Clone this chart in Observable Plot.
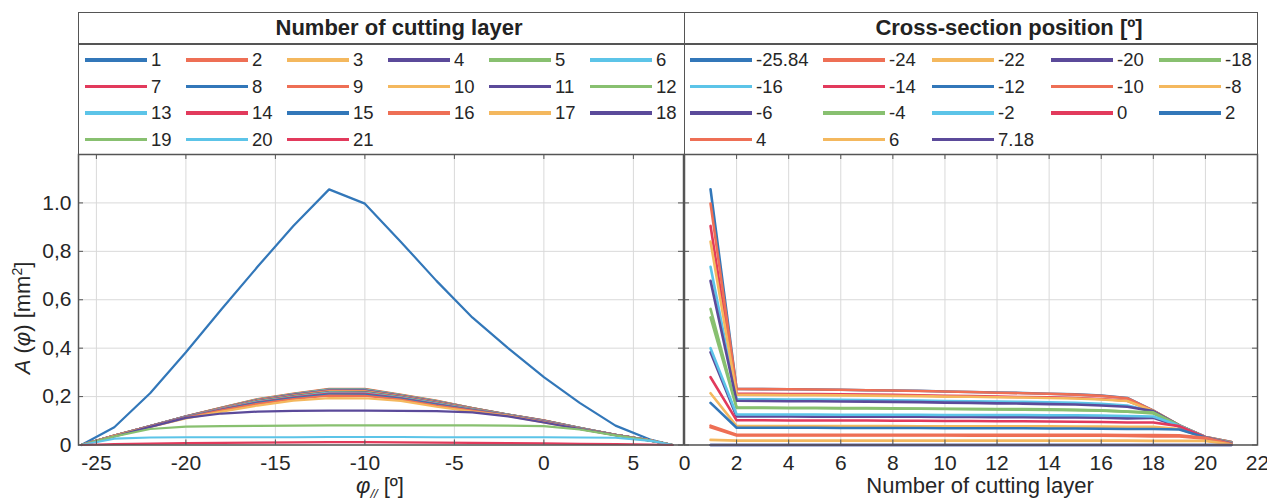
<!DOCTYPE html>
<html>
<head>
<meta charset="utf-8">
<script src="https://cdn.jsdelivr.net/npm/d3@7"></script>
<script src="https://cdn.jsdelivr.net/npm/@observablehq/plot@0.6"></script>
<style>
  html, body { margin: 0; padding: 0; background: #fff; }
  body { width: 1267px; height: 499px; position: relative; overflow: hidden;
         font-family: "Liberation Sans", Arial, sans-serif; color: #222; }
  .abs { position: absolute; }
  .box { position: absolute; border: 1.5px solid #555; box-sizing: border-box; }
  .ttl { position: absolute; font-weight: bold; font-size: 22px; line-height: 24px; white-space: nowrap; transform: translateX(-50%); color: #222; }
  .lgline { position: absolute; height: 3.5px; width: 62px; }
  .lglab { position: absolute; font-size: 18.5px; line-height: 20px; white-space: nowrap; color: #262626; }
  .axlab { position: absolute; font-size: 22px; line-height: 24px; white-space: nowrap; color: #262626; }
</style>
</head>
<body>
<div id="legends"></div>
<div id="leftPlot" class="abs" style="left:0;top:0;width:690px;height:499px"></div>
<div id="rightPlot" class="abs" style="left:640px;top:0;width:627px;height:499px"></div>
<div class="axlab" style="left:380px;top:474px;transform:translateX(-50%);"><i>φ</i><sub style="font-size:13px;line-height:0"><i>//</i></sub> [º]</div>
<div class="axlab" style="left:980px;top:474px;transform:translateX(-50%);">Number of cutting layer</div>
<div class="axlab" style="left:23px;top:318px;transform:translate(-50%,-50%) rotate(-90deg);"><i>A</i> (<i>φ</i>) [mm<sup style="font-size:14px;line-height:0">2</sup>]</div>
<script>
// ---------------- data ----------------
const positions = [-25.84, -24, -22, -20, -18, -16, -14, -12, -10, -8, -6, -4, -2, 0, 2, 4, 6, 7.18];
const positionLabels = ["-25.84", "-24", "-22", "-20", "-18", "-16", "-14", "-12", "-10", "-8", "-6", "-4", "-2", "0", "2", "4", "6", "7.18"];
const layers = [1, 2, 3, 4, 5, 6, 7, 8, 9, 10, 11, 12, 13, 14, 15, 16, 17, 18, 19, 20, 21];

// A(phi) [mm^2] per cutting layer, one value per cross-section position
const layer01 = [0, 0.073, 0.214, 0.383, 0.562, 0.736, 0.905, 1.056, 0.997, 0.840, 0.678, 0.527, 0.400, 0.280, 0.174, 0.080, 0.021, 0];
const layer02 = [0, 0.039, 0.078, 0.118, 0.155, 0.190, 0.212, 0.232, 0.232, 0.208, 0.183, 0.153, 0.126, 0.102, 0.071, 0.042, 0.018, 0];
const layer03 = [0, 0.039, 0.078, 0.118, 0.155, 0.189, 0.211, 0.231, 0.231, 0.207, 0.182, 0.153, 0.126, 0.102, 0.071, 0.042, 0.018, 0];
const layer04 = [0, 0.039, 0.078, 0.118, 0.154, 0.188, 0.210, 0.230, 0.230, 0.206, 0.181, 0.152, 0.126, 0.101, 0.071, 0.042, 0.018, 0];
const layer05 = [0, 0.039, 0.078, 0.117, 0.154, 0.188, 0.210, 0.229, 0.229, 0.206, 0.181, 0.152, 0.126, 0.101, 0.071, 0.042, 0.018, 0];
const layer06 = [0, 0.039, 0.078, 0.117, 0.153, 0.187, 0.209, 0.228, 0.228, 0.205, 0.180, 0.151, 0.125, 0.101, 0.070, 0.042, 0.018, 0];
const layer07 = [0, 0.039, 0.078, 0.117, 0.153, 0.186, 0.208, 0.226, 0.226, 0.204, 0.179, 0.151, 0.125, 0.101, 0.070, 0.042, 0.018, 0];
const layer08 = [0, 0.039, 0.078, 0.117, 0.152, 0.185, 0.207, 0.225, 0.225, 0.203, 0.178, 0.150, 0.125, 0.100, 0.070, 0.042, 0.018, 0];
const layer09 = [0, 0.039, 0.077, 0.117, 0.151, 0.184, 0.205, 0.224, 0.223, 0.202, 0.177, 0.150, 0.125, 0.100, 0.070, 0.042, 0.018, 0];
const layer10 = [0, 0.039, 0.077, 0.116, 0.150, 0.182, 0.203, 0.221, 0.221, 0.200, 0.175, 0.149, 0.124, 0.099, 0.069, 0.042, 0.018, 0];
const layer11 = [0, 0.038, 0.077, 0.116, 0.149, 0.181, 0.202, 0.219, 0.219, 0.199, 0.174, 0.148, 0.124, 0.099, 0.069, 0.042, 0.018, 0];
const layer12 = [0, 0.038, 0.077, 0.115, 0.148, 0.179, 0.200, 0.217, 0.216, 0.197, 0.172, 0.147, 0.124, 0.098, 0.069, 0.042, 0.018, 0];
const layer13 = [0, 0.038, 0.077, 0.115, 0.148, 0.178, 0.198, 0.215, 0.214, 0.196, 0.171, 0.146, 0.124, 0.098, 0.069, 0.042, 0.018, 0];
const layer14 = [0, 0.038, 0.077, 0.114, 0.147, 0.176, 0.197, 0.212, 0.212, 0.194, 0.169, 0.145, 0.123, 0.097, 0.068, 0.042, 0.018, 0];
const layer15 = [0, 0.038, 0.076, 0.114, 0.145, 0.174, 0.194, 0.209, 0.208, 0.192, 0.167, 0.144, 0.123, 0.096, 0.068, 0.042, 0.018, 0];
const layer16 = [0, 0.038, 0.076, 0.113, 0.143, 0.170, 0.190, 0.204, 0.203, 0.188, 0.163, 0.142, 0.122, 0.095, 0.067, 0.042, 0.018, 0];
const layer17 = [0, 0.037, 0.075, 0.110, 0.138, 0.163, 0.183, 0.194, 0.193, 0.182, 0.158, 0.138, 0.120, 0.093, 0.066, 0.041, 0.018, 0];
const layer18 = [0, 0.035, 0.075, 0.112, 0.130, 0.138, 0.141, 0.142, 0.142, 0.141, 0.140, 0.135, 0.118, 0.093, 0.066, 0.041, 0.017, 0];
const layer19 = [0, 0.035, 0.066, 0.076, 0.078, 0.079, 0.080, 0.081, 0.081, 0.081, 0.081, 0.081, 0.080, 0.078, 0.064, 0.040, 0.017, 0];
const layer20 = [0, 0.026, 0.031, 0.032, 0.032, 0.032, 0.032, 0.033, 0.033, 0.033, 0.032, 0.032, 0.032, 0.032, 0.031, 0.030, 0.017, 0];
const layer21 = [0, 0.004, 0.006, 0.008, 0.009, 0.010, 0.011, 0.012, 0.012, 0.011, 0.010, 0.009, 0.008, 0.007, 0.005, 0.004, 0.002, 0];

const layerSeries = [layer01, layer02, layer03, layer04, layer05, layer06, layer07, layer08, layer09, layer10,
  layer11, layer12, layer13, layer14, layer15, layer16, layer17, layer18, layer19, layer20, layer21];

// ticks
const xTicksLeft = [-25, -20, -15, -10, -5, 0, 5];
const xTickLabelsLeft = ["-25", "-20", "-15", "-10", "-5", "0", "5"];
const xTicksRight = [0, 2, 4, 6, 8, 10, 12, 14, 16, 18, 20, 22];
const yTicks = [0, 0.2, 0.4, 0.6, 0.8, 1.0];
const yTickLabels = ["0", "0,2", "0,4", "0,6", "0,8", "1.0"];

// titles
const leftLegendTitle = "Number of cutting layer";
const rightLegendTitle = "Cross-section position [º]";

// colour cycle
const palette = ["#3277b9", "#ee6f55", "#f4b85e", "#5b4a9a", "#88c070", "#5cc4e8", "#e23a5c"];
const layerColors = layers.map((_, i) => palette[i % palette.length]);
const positionColors = positionLabels.map((_, i) => palette[i % palette.length]);

// ---------------- tidy tables ----------------
const leftRows = [];
layerSeries.forEach((vals, i) => vals.forEach((v, j) => leftRows.push({layer: layers[i], pos: positions[j], a: v})));
const rightRows = [];
positionLabels.forEach((lab, j) => layerSeries.forEach((vals, i) => rightRows.push({posLabel: lab, layer: layers[i], a: vals[j]})));

// ---------------- geometry ----------------
const TOP = 154, BOTTOM_Y = 444.5, H = 499;
const plotH = BOTTOM_Y - TOP;
const gridColor = "#d9d9d9", frameColor = "#555", tickColor = "#555";
const fontStack = "'Liberation Sans', Arial, sans-serif";

function innerTicks(xt, yt, w, h) {
  return [
    Plot.tickX(xt, {x: d => d, insetTop: h - 5, stroke: tickColor}),
    Plot.tickX(xt, {x: d => d, insetBottom: h - 5, stroke: tickColor}),
    Plot.tickY(yt, {y: d => d, insetRight: w - 5, stroke: tickColor}),
    Plot.tickY(yt, {y: d => d, insetLeft: w - 5, stroke: tickColor})
  ];
}

// left panel
{
  const W = 690, mL = 78, mR = 7;
  const pw = W - mL - mR;
  const chart = Plot.plot({
    width: W, height: H,
    marginTop: TOP, marginBottom: H - BOTTOM_Y, marginLeft: mL, marginRight: mR,
    style: {background: "transparent", overflow: "visible", fontFamily: fontStack, fontSize: "21px", color: "#262626"},
    x: {domain: [-26, 7.8], ticks: xTicksLeft, tickFormat: d => xTickLabelsLeft[xTicksLeft.indexOf(d)], tickSize: 0, tickPadding: 10, label: null},
    y: {domain: [0, 1.2], ticks: yTicks, tickFormat: d => yTickLabels[yTicks.indexOf(d)], tickSize: 0, tickPadding: 7, label: null},
    color: {type: "ordinal", domain: layers, range: layerColors},
    marks: [
      Plot.ruleX(xTicksLeft, {stroke: gridColor, strokeWidth: 1}),
      Plot.ruleY(yTicks, {stroke: gridColor, strokeWidth: 1}),
      Plot.line(leftRows, {x: "pos", y: "a", z: "layer", stroke: "layer", strokeWidth: 2.2}),
      ...innerTicks(xTicksLeft, yTicks, pw, plotH),
      Plot.frame({stroke: frameColor, strokeWidth: 1.5})
    ]
  });
  document.getElementById("leftPlot").appendChild(chart);
}

// right panel
{
  const W = 627, mL = 44, mR = 10;
  const pw = W - mL - mR;
  const chart = Plot.plot({
    width: W, height: H,
    marginTop: TOP, marginBottom: H - BOTTOM_Y, marginLeft: mL, marginRight: mR,
    style: {background: "transparent", overflow: "visible", fontFamily: fontStack, fontSize: "21px", color: "#262626"},
    x: {domain: [0, 22], ticks: xTicksRight, tickFormat: d => String(d), tickSize: 0, tickPadding: 10, label: null},
    y: {domain: [0, 1.2], ticks: yTicks, tickFormat: () => "", tickSize: 0, label: null},
    color: {type: "ordinal", domain: positionLabels, range: positionColors},
    marks: [
      Plot.ruleX(xTicksRight, {stroke: gridColor, strokeWidth: 1}),
      Plot.ruleY(yTicks, {stroke: gridColor, strokeWidth: 1}),
      Plot.line(rightRows, {x: "layer", y: "a", z: "posLabel", stroke: "posLabel", strokeWidth: 2.6}),
      ...innerTicks(xTicksRight, yTicks, pw, plotH),
      Plot.frame({stroke: frameColor, strokeWidth: 1.5})
    ]
  });
  document.getElementById("rightPlot").appendChild(chart);
}

// ---------------- legends (HTML) ----------------
const lg = document.getElementById("legends");
function addBox(left, top, width, height) {
  const b = document.createElement("div");
  b.className = "box";
  Object.assign(b.style, {left: left + "px", top: top + "px", width: width + "px", height: height + "px"});
  lg.appendChild(b);
}
function addLine(left, top, width) {
  const d = document.createElement("div");
  d.className = "abs";
  Object.assign(d.style, {left: left + "px", top: top + "px", width: width + "px", height: "1.5px", background: "#555"});
  lg.appendChild(d);
}
function addTitle(text, cx, cy) {
  const t = document.createElement("div");
  t.className = "ttl";
  t.textContent = text;
  Object.assign(t.style, {left: cx + "px", top: (cy - 12) + "px"});
  lg.appendChild(t);
}
function addItem(label, color, x, yc) {
  const l = document.createElement("div");
  l.className = "lgline";
  Object.assign(l.style, {left: x + "px", top: (yc - 1.75) + "px", background: color});
  lg.appendChild(l);
  const s = document.createElement("div");
  s.className = "lglab";
  s.textContent = label;
  Object.assign(s.style, {left: (x + 66) + "px", top: (yc - 10) + "px"});
  lg.appendChild(s);
}
addBox(78, 12, 607, 143);
addBox(684, 12, 574, 143);
addLine(78, 43, 1180);
addTitle(leftLegendTitle, 399, 28);
addTitle(rightLegendTitle, 1009, 28);

const rowY = [60, 86.5, 113, 139.5];
const leftColX = [85, 186, 287, 388, 489, 590];
layers.forEach((L, i) => addItem(String(L), layerColors[i], leftColX[i % 6], rowY[Math.floor(i / 6)]));
const rightColX = [690, 823, 932, 1051, 1159];
positionLabels.forEach((p, i) => addItem(p, positionColors[i], rightColX[i % 5], rowY[Math.floor(i / 5)]));
</script>
</body>
</html>
